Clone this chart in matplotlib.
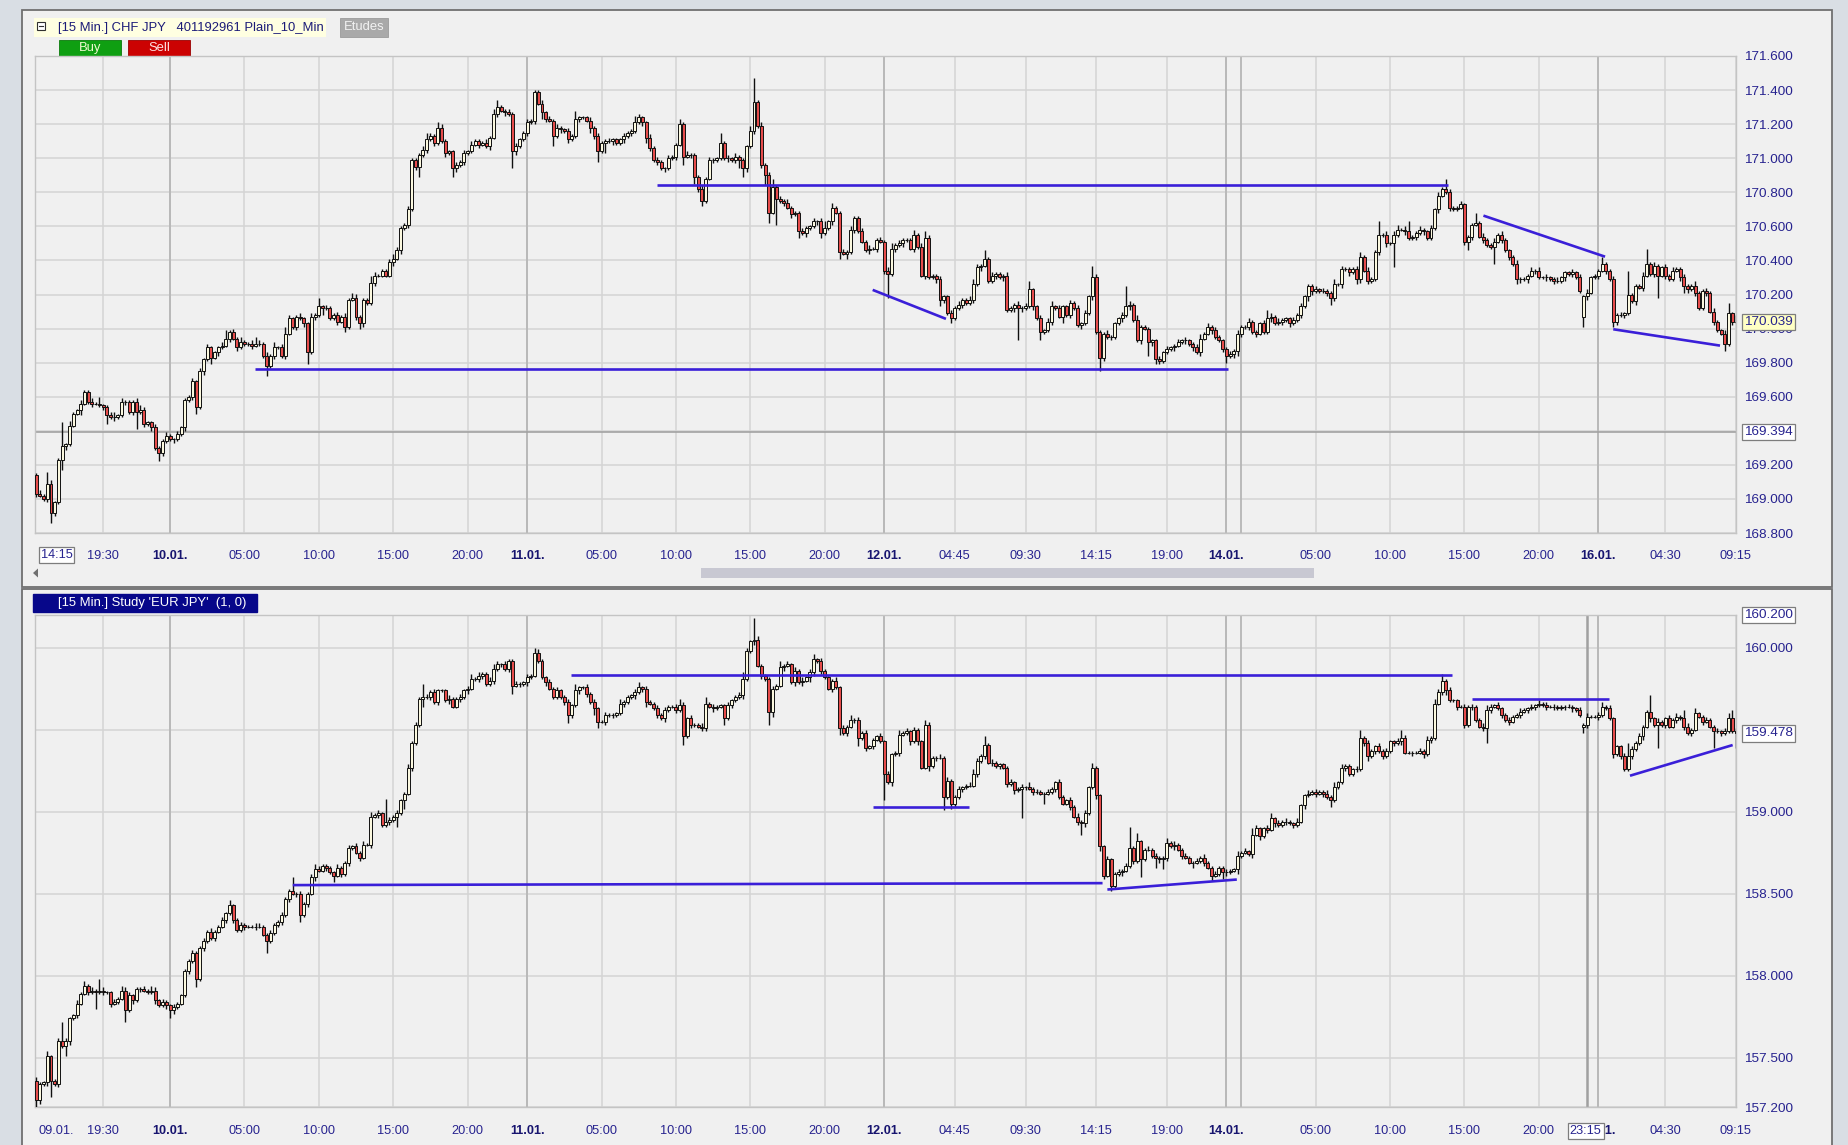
import matplotlib
matplotlib.use('Agg')
import matplotlib.pyplot as plt
from matplotlib.patches import Rectangle, Polygon
import numpy as np

plt.rcParams['font.family'] = ['Liberation Sans', 'DejaVu Sans']

# ---------------- data (15-min bars) ----------------
top_open0 = 169.14
top_close = [
    169.03, 169.02, 169.00, 169.09, 168.92, 168.98, 169.23, 169.31, 169.32, 169.43,
    169.50, 169.52, 169.56, 169.63, 169.57, 169.56, 169.56, 169.55, 169.54, 169.49,
    169.48, 169.48, 169.49, 169.57, 169.57, 169.51, 169.57, 169.51, 169.52, 169.44,
    169.45, 169.42, 169.30, 169.27, 169.34, 169.37, 169.35, 169.35, 169.38, 169.42,
    169.58, 169.60, 169.69, 169.54, 169.75, 169.82, 169.89, 169.83, 169.86, 169.89,
    169.90, 169.94, 169.98, 169.94, 169.89, 169.92, 169.91, 169.91, 169.90, 169.91,
    169.91, 169.84, 169.78, 169.84, 169.89, 169.89, 169.84, 169.97, 170.06, 170.01,
    170.07, 170.06, 170.03, 169.86, 170.07, 170.08, 170.13, 170.12, 170.12, 170.06,
    170.08, 170.04, 170.07, 170.01, 170.17, 170.18, 170.07, 170.03, 170.17, 170.15,
    170.27, 170.31, 170.31, 170.34, 170.31, 170.39, 170.41, 170.46, 170.59, 170.61,
    170.70, 170.99, 170.95, 171.02, 171.05, 171.11, 171.13, 171.09, 171.18, 171.10,
    171.03, 171.04, 170.94, 170.96, 170.98, 171.03, 171.04, 171.08, 171.10, 171.08,
    171.09, 171.07, 171.12, 171.26, 171.30, 171.28, 171.27, 171.26, 171.04, 171.07,
    171.11, 171.15, 171.21, 171.22, 171.39, 171.32, 171.27, 171.23, 171.22, 171.13,
    171.18, 171.17, 171.16, 171.11, 171.13, 171.23, 171.24, 171.24, 171.22, 171.18,
    171.13, 171.04, 171.09, 171.10, 171.10, 171.11, 171.09, 171.11, 171.13, 171.15,
    171.16, 171.21, 171.24, 171.21, 171.12, 171.06, 170.99, 170.98, 170.94, 170.94,
    171.00, 171.01, 171.08, 171.20, 171.01, 171.02, 171.02, 170.89, 170.82, 170.75,
    170.88, 170.99, 170.99, 171.00, 171.09, 171.00, 171.00, 170.99, 171.01, 170.99,
    170.94, 171.07, 171.16, 171.33, 171.19, 170.96, 170.90, 170.68, 170.83, 170.76,
    170.75, 170.74, 170.71, 170.67, 170.68, 170.57, 170.56, 170.59, 170.60, 170.63,
    170.63, 170.56, 170.59, 170.63, 170.71, 170.68, 170.45, 170.44, 170.45, 170.58,
    170.65, 170.57, 170.51, 170.46, 170.47, 170.47, 170.52, 170.51, 170.34, 170.32,
    170.47, 170.49, 170.50, 170.52, 170.52, 170.47, 170.55, 170.48, 170.31, 170.53,
    170.30, 170.31, 170.29, 170.17, 170.19, 170.09, 170.06, 170.12, 170.14, 170.17,
    170.15, 170.17, 170.26, 170.36, 170.37, 170.41, 170.28, 170.31, 170.32, 170.30,
    170.31, 170.11, 170.12, 170.14, 170.12, 170.12, 170.13, 170.23, 170.13, 170.06,
    169.98, 169.99, 170.04, 170.13, 170.12, 170.07, 170.13, 170.08, 170.15, 170.12,
    170.02, 170.03, 170.09, 170.19, 170.30, 169.98, 169.83, 169.97, 169.95, 169.95,
    170.03, 170.06, 170.08, 170.13, 170.14, 170.05, 169.93, 170.01, 170.00, 169.92,
    169.93, 169.82, 169.81, 169.86, 169.88, 169.89, 169.90, 169.92, 169.93, 169.93,
    169.91, 169.89, 169.86, 169.94, 169.97, 170.01, 169.99, 169.95, 169.93, 169.88,
    169.84, 169.85, 169.87, 169.97, 170.01, 170.01, 170.04, 169.98, 169.97, 170.03,
    169.98, 170.06, 170.07, 170.03, 170.04, 170.05, 170.06, 170.03, 170.05, 170.08,
    170.13, 170.19, 170.25, 170.22, 170.23, 170.22, 170.22, 170.21, 170.18, 170.26,
    170.26, 170.35, 170.35, 170.33, 170.35, 170.29, 170.42, 170.34, 170.28, 170.29,
    170.45, 170.55, 170.55, 170.50, 170.50, 170.55, 170.58, 170.58, 170.57, 170.53,
    170.54, 170.56, 170.58, 170.57, 170.53, 170.59, 170.70, 170.78, 170.82, 170.80,
    170.71, 170.70, 170.71, 170.73, 170.51, 170.54, 170.61, 170.62, 170.54, 170.52,
    170.49, 170.48, 170.51, 170.55, 170.52, 170.46, 170.42, 170.38, 170.29, 170.29,
    170.29, 170.31, 170.34, 170.34, 170.30, 170.30, 170.30, 170.29, 170.28, 170.28,
    170.30, 170.33, 170.32, 170.33, 170.30, 170.22, 170.19, 170.21, 170.30, 170.31,
    170.34, 170.38, 170.34, 170.29, 170.04, 170.08, 170.08, 170.09, 170.20, 170.16,
    170.25, 170.24, 170.31, 170.38, 170.32, 170.37, 170.31, 170.36, 170.31, 170.29,
    170.34, 170.35, 170.30, 170.25, 170.23, 170.25, 170.21, 170.12, 170.22, 170.21,
    170.10, 170.04, 169.99, 169.97, 169.91, 170.09, 170.04, 170.04,
]
top_open_gaps = {416: 170.07}

bot_open0 = 157.36
bot_close = [
    157.24, 157.34, 157.35, 157.51, 157.36, 157.34, 157.60, 157.57, 157.60, 157.74,
    157.76, 157.83, 157.89, 157.94, 157.90, 157.91, 157.90, 157.91, 157.90, 157.90,
    157.83, 157.84, 157.86, 157.91, 157.79, 157.88, 157.85, 157.92, 157.92, 157.91,
    157.90, 157.91, 157.85, 157.82, 157.84, 157.82, 157.79, 157.81, 157.83, 157.88,
    158.03, 158.09, 158.14, 157.98, 158.17, 158.21, 158.27, 158.23, 158.27, 158.30,
    158.34, 158.38, 158.43, 158.34, 158.28, 158.31, 158.30, 158.30, 158.30, 158.30,
    158.30, 158.25, 158.21, 158.26, 158.31, 158.33, 158.37, 158.47, 158.52, 158.50,
    158.50, 158.37, 158.44, 158.50, 158.60, 158.65, 158.64, 158.67, 158.66, 158.63,
    158.61, 158.66, 158.62, 158.69, 158.78, 158.79, 158.75, 158.72, 158.80, 158.80,
    158.97, 158.98, 158.99, 158.92, 158.94, 158.95, 158.97, 158.99, 159.07, 159.11,
    159.27, 159.42, 159.53, 159.69, 159.70, 159.70, 159.73, 159.67, 159.74, 159.74,
    159.68, 159.69, 159.64, 159.69, 159.70, 159.74, 159.75, 159.81, 159.81, 159.83,
    159.84, 159.78, 159.80, 159.87, 159.90, 159.90, 159.87, 159.92, 159.77, 159.78,
    159.78, 159.79, 159.82, 159.83, 159.97, 159.92, 159.82, 159.79, 159.75, 159.70,
    159.74, 159.70, 159.67, 159.59, 159.65, 159.74, 159.76, 159.76, 159.72, 159.67,
    159.63, 159.55, 159.55, 159.59, 159.59, 159.59, 159.60, 159.66, 159.67, 159.70,
    159.71, 159.73, 159.76, 159.75, 159.67, 159.66, 159.63, 159.59, 159.57, 159.62,
    159.64, 159.64, 159.62, 159.65, 159.46, 159.57, 159.53, 159.53, 159.52, 159.51,
    159.66, 159.64, 159.63, 159.64, 159.65, 159.57, 159.65, 159.68, 159.70, 159.71,
    159.81, 159.98, 160.04, 160.05, 159.89, 159.83, 159.81, 159.61, 159.75, 159.77,
    159.88, 159.89, 159.90, 159.79, 159.86, 159.79, 159.80, 159.82, 159.85, 159.93,
    159.92, 159.86, 159.82, 159.75, 159.80, 159.76, 159.51, 159.48, 159.52, 159.56,
    159.56, 159.45, 159.48, 159.39, 159.40, 159.44, 159.46, 159.43, 159.23, 159.18,
    159.35, 159.36, 159.47, 159.48, 159.49, 159.43, 159.50, 159.43, 159.27, 159.53,
    159.28, 159.33, 159.33, 159.33, 159.09, 159.19, 159.05, 159.09, 159.14, 159.15,
    159.16, 159.16, 159.23, 159.31, 159.34, 159.41, 159.30, 159.30, 159.28, 159.29,
    159.27, 159.17, 159.18, 159.13, 159.14, 159.15, 159.15, 159.14, 159.12, 159.12,
    159.11, 159.11, 159.12, 159.14, 159.18, 159.09, 159.05, 159.07, 159.03, 158.97,
    158.94, 158.93, 158.99, 159.15, 159.27, 159.10, 158.79, 158.61, 158.71, 158.55,
    158.62, 158.63, 158.64, 158.67, 158.78, 158.70, 158.82, 158.71, 158.77, 158.77,
    158.73, 158.72, 158.71, 158.72, 158.81, 158.79, 158.80, 158.77, 158.73, 158.72,
    158.69, 158.69, 158.70, 158.72, 158.69, 158.66, 158.61, 158.62, 158.66, 158.63,
    158.63, 158.64, 158.65, 158.73, 158.75, 158.76, 158.74, 158.86, 158.90, 158.85,
    158.90, 158.89, 158.96, 158.93, 158.92, 158.94, 158.94, 158.93, 158.92, 158.94,
    159.04, 159.10, 159.11, 159.12, 159.11, 159.12, 159.11, 159.09, 159.07, 159.15,
    159.18, 159.27, 159.28, 159.23, 159.26, 159.26, 159.45, 159.42, 159.34, 159.37,
    159.40, 159.37, 159.34, 159.37, 159.43, 159.42, 159.43, 159.45, 159.36, 159.36,
    159.36, 159.36, 159.37, 159.35, 159.44, 159.45, 159.66, 159.73, 159.80, 159.74,
    159.68, 159.68, 159.64, 159.64, 159.53, 159.64, 159.64, 159.56, 159.52, 159.51,
    159.62, 159.64, 159.65, 159.63, 159.59, 159.56, 159.55, 159.58, 159.59, 159.61,
    159.62, 159.63, 159.64, 159.65, 159.66, 159.65, 159.64, 159.64, 159.64, 159.63,
    159.64, 159.64, 159.64, 159.63, 159.62, 159.59, 159.53, 159.58, 159.58, 159.58,
    159.59, 159.64, 159.63, 159.57, 159.35, 159.40, 159.34, 159.26, 159.34, 159.38,
    159.42, 159.46, 159.52, 159.61, 159.57, 159.53, 159.55, 159.53, 159.57, 159.52,
    159.56, 159.58, 159.57, 159.52, 159.48, 159.50, 159.60, 159.58, 159.55, 159.56,
    159.52, 159.49, 159.49, 159.48, 159.49, 159.57, 159.49, 159.48,
]
bot_open_gaps = {416: 159.52}

# wick lengths beyond the body, in 0.01 price units (one digit per bar)
top_up_wick = ("12112112121121121211" "21121112121121121121" "11212121112112121121"
               "21211121211211211121" "12121121112211121211" "21112121121112121211"
               "12121112121121112121" "21121211121211211121" "11211212112112121112"
               "12112121211121121211" "21211121121211211212" "11212112121121112121"
               "21121121211212111211" "12112121112121121121" "21211211211121212111"
               "11212112121121121211" "12121121112121211121" "21112121121211121121"
               "12121211211121121211" "21121112121121211121" "11212121121112121211"
               "12112121211121121121" "21121121121211211212")
top_lo_wick = ("21121211211121121121" "12112121121211211211" "21211211121121211121"
               "11212112112121121211" "12121121211211112121" "21211212112112121112"
               "11212121121121211211" "12121121112112121121" "21121212121121112121"
               "11211121211212121211" "12121212112111212121" "21112121211212112112"
               "11212121121121211121" "21121211212112112121" "12112112121121211211"
               "21211121121212112112" "11212121211121121211" "21121112121212112121"
               "12121211211212111211" "21112121121121212112" "12121121211212111211"
               "21211212112121121121" "11212121121211212112")
bot_up_wick = ("21121121211211121121" "12112211121121211211" "11211212112121121112"
               "21121121121211212111" "12112121211121121211" "21211212111211212112"
               "11212121121121121121" "21121211212112111211" "12112112121121212112"
               "21211121121211211121" "11212121211211121211" "12121112121121212112"
               "21121211211212111211" "11211212121121121121" "21212111211212112112"
               "12112121121121211211" "21121211211211212112" "11212112121211121121"
               "12121121211121211211" "21112121121212112112" "11212121211121121211"
               "21121112121211212112" "12112121121121211211")
bot_lo_wick = ("12121121121211211121" "21112121211121121211" "12121211211212112112"
               "11211121212112121121" "21212112112121121211" "12112121211211212112"
               "21121212112121111211" "11212121211212121121" "12121112121121212112"
               "21211212112112121211" "12112121121211211121" "21121211212121121211"
               "11212112121112121212" "12121121211211211121" "21211212112121121211"
               "11212121211211212112" "21121112121212112121" "12112121211121121211"
               "21211212112112121121" "11212121121211212112" "12121121211212111211"
               "21112121121121212121" "12121211211212111211")
top_up_big = {3: 7, 7: 14, 9: 3, 17: 4, 21: 3, 28: 3, 51: 5, 55: 3, 59: 4, 64: 3, 67: 4, 76: 5,
              85: 3, 90: 4, 96: 3, 105: 4, 108: 3, 123: 3, 124: 4, 145: 5, 161: 4, 173: 3,
              184: 6, 192: 3, 193: 14, 198: 5, 212: 4, 214: 3, 230: 3, 236: 3, 239: 4, 252: 3,
              255: 5, 267: 5, 273: 3, 284: 7, 293: 12, 296: 3, 313: 3, 331: 5, 349: 3, 356: 3,
              361: 8, 366: 3, 369: 6, 379: 6, 387: 6, 421: 4, 428: 14, 433: 9, 446: 3, 455: 6, 457: 4}
top_lo_big = {4: 6, 7: 6, 12: 3, 19: 5, 27: 10, 33: 5, 43: 4, 47: 4, 62: 6, 73: 7, 77: 4, 83: 3,
              87: 3, 103: 6, 112: 5, 128: 10, 136: 4, 139: 6, 149: 3, 151: 6, 153: 6, 164: 3,
              174: 5, 177: 4, 179: 3, 189: 5, 190: 5, 196: 6, 197: 6, 199: 15, 205: 4, 211: 3,
              216: 4, 218: 3, 229: 14, 243: 4, 246: 3, 264: 19, 270: 5, 276: 4, 286: 8, 299: 8,
              301: 3, 320: 4, 323: 3, 342: 3, 348: 4, 355: 3, 365: 14, 385: 5, 392: 10, 398: 3,
              416: 6, 424: 3, 436: 13, 443: 4, 454: 4}
bot_up_big = {3: 3, 7: 12, 13: 3, 17: 7, 23: 3, 31: 3, 52: 3, 69: 8, 75: 3, 90: 3, 94: 14, 104: 8,
              117: 3, 123: 3, 134: 3, 145: 4, 157: 3, 162: 3, 173: 4, 180: 4, 190: 4, 193: 13,
              200: 4, 209: 3, 219: 3, 232: 3, 239: 3, 252: 3, 255: 5, 267: 3, 284: 3, 294: 13,
              296: 5, 304: 3, 323: 3, 327: 4, 332: 3, 349: 3, 356: 5, 367: 5, 376: 3, 378: 4,
              390: 3, 421: 3, 428: 8, 434: 10, 443: 5, 446: 3, 455: 3, 456: 5}
bot_lo_big = {0: 4, 4: 10, 8: 6, 16: 10, 24: 7, 36: 5, 43: 5, 62: 7, 71: 4, 80: 4, 97: 6, 99: 5,
              104: 5, 128: 5, 143: 5, 150: 4, 151: 4, 164: 3, 174: 5, 185: 4, 197: 8, 198: 3,
              208: 3, 216: 4, 221: 5, 228: 16, 240: 3, 244: 8, 246: 3, 265: 18, 271: 6, 281: 7,
              286: 3, 289: 3, 297: 11, 301: 6, 303: 6, 311: 3, 316: 3, 319: 4, 323: 3, 348: 4,
              358: 3, 379: 3, 390: 9, 416: 4, 436: 14, 451: 10, 457: 9}

# drawn trend lines: ((bar, price), (bar, price))
top_lines = [((58.9, 169.760), (320.5, 169.760)),
             ((166.9, 170.845), (379.7, 170.845)),
             ((224.9, 170.227), (244.6, 170.057)),
             ((389.1, 170.663), (421.8, 170.422)),
             ((424.0, 169.996), (452.7, 169.900))]
bot_lines = [((69.0, 158.553), (286.7, 158.565)),
             ((143.7, 159.835), (380.7, 159.835)),
             ((224.9, 159.028), (250.8, 159.028)),
             ((288.0, 158.526), (322.8, 158.587)),
             ((385.9, 159.689), (422.9, 159.689)),
             ((428.5, 159.220), (456.1, 159.407))]

# axes
x_ticks = [18, 36, 56, 76, 96, 116, 132, 152, 172, 192, 212, 228, 247, 266, 285, 304,
           320, 344, 364, 384, 404, 420, 438, 457]
x_labels = ['19:30', '10.01.', '05:00', '10:00', '15:00', '20:00', '11.01.', '05:00', '10:00',
            '15:00', '20:00', '12.01.', '04:45', '09:30', '14:15', '19:00', '14.01.', '05:00',
            '10:00', '15:00', '20:00', '16.01.', '04:30', '09:15']
top_dark_x = [36, 132, 228, 320, 324, 420]
bot_dark_x = [36, 132, 228, 320, 324, 420]
bot_cursor_x = 416.9
top_yticks = [168.8, 169.0, 169.2, 169.4, 169.6, 169.8, 170.0, 170.2, 170.4, 170.6, 170.8,
              171.0, 171.2, 171.4, 171.6]
bot_yticks = [157.2, 157.5, 158.0, 158.5, 159.0, 159.5, 160.0]
top_last, top_cursor = 170.039, 169.394
bot_last, bot_top = 159.478, 160.2

# ---------------- styling ----------------
W, H = 1848, 1145
UP, DOWN, EDGE = '#fbf8df', '#e64c4b', '#101010'
GRID, DARK = '#d4d4d4', '#b6b6b6'
LBL, DATE_C = '#27238f', '#17146f'
BLUE = '#3a1fd8'
PANEL = '#f0f0f0'

fig = plt.figure(figsize=(W / 100, H / 100), dpi=100, facecolor='#d9dee4')

bg = fig.add_axes([0, 0, 1, 1], zorder=-1)
bg.set_xlim(0, W)
bg.set_ylim(H, 0)
bg.axis('off')
for y0, y1 in [(10, 587), (589, 1152)]:
    bg.add_patch(Rectangle((22, y0), 1810, y1 - y0, fc=PANEL, ec='#707070', lw=1.3))
# header
bg.add_patch(Rectangle((34, 18), 292, 19, fc='#ffffe1', ec='none'))
bg.add_patch(Rectangle((37, 22), 8, 8, fc='white', ec='#303030', lw=0.8))
bg.plot([39, 43], [26, 26], color='#303030', lw=0.8)
bg.text(58, 27.5, '[15 Min.] CHF JPY   401192961 Plain_10_Min', fontsize=9.4, color='#1b1b78',
        va='center', ha='left')
bg.add_patch(Rectangle((340, 18), 48, 19, fc='#a9a9a9', ec='#9a9a9a', lw=0.6))
bg.text(364, 27.5, 'Etudes', fontsize=9.4, color='#f2f2f2', va='center', ha='center')
bg.add_patch(Rectangle((59, 40), 62, 16, fc='#0f9f12', ec='#0b7a0b', lw=0.6))
bg.text(90, 48, 'Buy', fontsize=9.4, color='#eef9cf', va='center', ha='center')
bg.add_patch(Rectangle((128, 40), 62, 16, fc='#cc0202', ec='#9a0000', lw=0.6))
bg.text(159, 48, 'Sell', fontsize=9.4, color='#ffe2e2', va='center', ha='center')
# scrollbar & arrow
bg.add_patch(Rectangle((701, 568), 613, 10, fc='#c8c8d2', ec='none'))
bg.add_patch(Polygon([(33, 573), (38, 568.5), (38, 577.5)], closed=True, fc='#707070', ec='none'))
# bottom title
bg.add_patch(Rectangle((33, 594), 224, 18, fc='#07078a', ec='#07078a'))
bg.text(58, 603, "[15 Min.] Study 'EUR JPY'  (1, 0)", fontsize=9.4, color='white',
        va='center', ha='left')

ax1 = fig.add_axes([35 / W, 1 - 533 / H, 1701 / W, 477 / H])
ax2 = fig.add_axes([35 / W, 1 - 1107 / H, 1701 / W, 492 / H])


def build(close, open0, gaps, up_s, lo_s, up_big, lo_big):
    c = np.array(close, dtype=float)
    o = np.empty_like(c)
    o[0] = open0
    o[1:] = c[:-1]
    for k, v in gaps.items():
        if k < len(o):
            o[k] = v
    uw = np.array([up_big.get(i, int(up_s[i]) if i < len(up_s) else 1) for i in range(len(c))])
    lw = np.array([lo_big.get(i, int(lo_s[i]) if i < len(lo_s) else 1) for i in range(len(c))])
    hi = np.maximum(o, c) + uw * 0.01
    lo = np.minimum(o, c) - lw * 0.01
    return o, c, hi, lo


def panel(ax, data, yticks, ylim, dark_x, lines, label_pad):
    o, c, hi, lo = data
    idx = np.arange(len(c))
    ax.set_facecolor(PANEL)
    ax.set_xlim(-0.3, 457.0)
    ax.set_ylim(*ylim)
    for y in yticks:
        ax.axhline(y, color=GRID, lw=1.1, zorder=1)
    for x in x_ticks:
        ax.axvline(x, color=GRID, lw=1.1, zorder=1)
    for x in dark_x:
        ax.axvline(x, color=DARK, lw=1.3, zorder=1.2)
    ax.vlines(idx, lo, hi, color=EDGE, lw=1.0, zorder=3)
    up = c >= o
    ax.bar(idx, c - o, bottom=o, width=0.8, color=np.where(up, UP, DOWN),
           edgecolor=EDGE, linewidth=0.7, zorder=4)
    for (x0, y0), (x1, y1) in lines:
        ax.plot([x0, x1], [y0, y1], color=BLUE, lw=1.9, zorder=6, solid_capstyle='butt')
    for s in ax.spines.values():
        s.set_color('#c4c4c4')
        s.set_linewidth(1.0)
    ax.yaxis.tick_right()
    ax.set_yticks(yticks)
    ax.set_yticklabels(['%.3f' % v for v in yticks])
    ax.tick_params(axis='y', length=0, pad=5.8, labelsize=9.7, labelcolor=LBL)
    ax.set_xticks(x_ticks)
    ax.set_xticklabels(x_labels)
    ax.tick_params(axis='x', length=0, pad=label_pad, labelsize=9.2, labelcolor=LBL)
    for lab, t in zip(ax.get_xticklabels(), x_labels):
        if t.endswith('.'):
            lab.set_fontweight('bold')
            lab.set_color(DATE_C)


def price_box(ax, y, txt, fc):
    ax.annotate(txt, xy=(1, y), xycoords=('axes fraction', 'data'), xytext=(5.8, 0),
                textcoords='offset points', ha='left', va='center', fontsize=9.7, color=LBL,
                bbox=dict(boxstyle='square,pad=0.17', fc=fc, ec='#7d7d7d', lw=0.9),
                zorder=20, annotation_clip=False)


def time_box(ax, x, txt, dy, boxed, bold=False):
    kw = dict(bbox=dict(boxstyle='square,pad=0.15', fc='white', ec='#7d7d7d', lw=0.9)) if boxed else {}
    ax.annotate(txt, xy=(x, 0), xycoords=('data', 'axes fraction'), xytext=(0, dy),
                textcoords='offset points', ha='center', va='center', fontsize=9.2,
                color=LBL, fontweight='bold' if bold else 'normal', zorder=20,
                annotation_clip=False, **kw)


top = build(top_close, top_open0, top_open_gaps, top_up_wick, top_lo_wick, top_up_big, top_lo_big)
bot = build(bot_close, bot_open0, bot_open_gaps, bot_up_wick, bot_lo_wick, bot_up_big, bot_lo_big)

panel(ax1, top, top_yticks, (168.8, 171.6), top_dark_x, top_lines, 12.0)
panel(ax2, bot, bot_yticks, (157.2, 160.2), bot_dark_x, bot_lines, 13.0)

ax1.axhline(top_cursor, color='#a2a2a2', lw=1.2, zorder=1.5)
ax2.axvline(bot_cursor_x, color='#a0a0a0', lw=1.8, zorder=1.3)

price_box(ax1, top_last, '%.3f' % top_last, '#ffffc4')
price_box(ax1, top_cursor, '%.3f' % top_cursor, 'white')
price_box(ax2, bot_top, '%.3f' % bot_top, 'white')
price_box(ax2, bot_last, '%.3f' % bot_last, 'white')

time_box(ax1, 5.5, '14:15', -16.0, True)
time_box(ax2, 5.5, '09.01.', -17.5, False)
time_box(ax2, 416.6, '23:15', -17.5, True)

fig.savefig('out.png', dpi=100, facecolor=fig.get_facecolor())
